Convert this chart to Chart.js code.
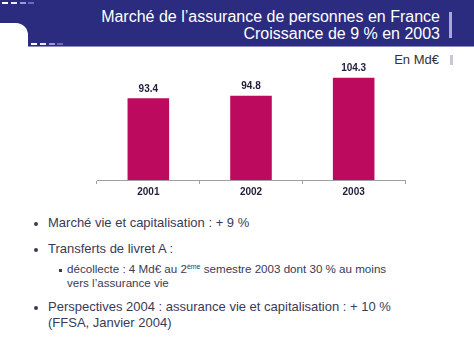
<!DOCTYPE html>
<html><head><meta charset="utf-8">
<script src="https://cdn.jsdelivr.net/npm/chart.js@4"></script>
<style>
html,body{margin:0;padding:0;background:#fff;width:474px;height:355px;overflow:hidden;font-family:"Liberation Sans",Arial,sans-serif;}
#hdr{position:absolute;left:0;top:0;width:474px;height:46px;background:#2B2B80;border-bottom:1px solid #8C8CC0;}
#corner{position:absolute;left:0;top:23px;width:28px;height:24px;background:#fff;border-top-right-radius:12px;}
.t{position:absolute;white-space:nowrap;}
#title{right:34px;top:8px;color:#fff;font-size:16px;line-height:17px;text-align:right;}
#vbar{position:absolute;left:449px;top:12px;width:3px;height:26px;background:#A8A8D8;}
#unit{right:35px;top:52px;color:#333;font-size:13px;}
#vbar2{position:absolute;left:450px;top:55px;width:3px;height:10px;background:#C8C8D4;}
.dash{position:absolute;height:2px;width:6px;}
#chartwrap{position:absolute;left:92px;top:55px;width:318px;height:150px;}
.b{color:#3A3A58;}
.dot{position:absolute;width:4px;height:4px;border-radius:2px;background:#3A3A58;}
.sq{position:absolute;width:3px;height:3px;background:#3A3A58;}
</style></head>
<body>
<div id="hdr"></div>
<div id="corner"></div>
<div class="dash" style="left:2px;top:2px;background:#fff"></div>
<div class="dash" style="left:11px;top:2px;background:#e8e8ff"></div>
<div class="dash" style="left:20px;top:2px;background:#9a9ad8"></div>
<div class="dash" style="left:28px;top:2px;background:#6a6ab8"></div>
<div class="dash" style="left:31px;top:43px;background:#fff"></div>
<div class="dash" style="left:40px;top:43px;background:#e8e8ff"></div>
<div class="dash" style="left:49px;top:43px;background:#9a9ad8"></div>
<div class="dash" style="left:57px;top:43px;background:#6a6ab8"></div>
<div id="title" class="t">Marché de l’assurance de personnes en France<br>Croissance de 9 % en 2003</div>
<div id="vbar"></div>
<div id="unit" class="t">En Md€</div>
<div id="vbar2"></div>
<div id="chartwrap"><canvas id="c" width="318" height="150"></canvas></div>

<div class="dot" style="left:34px;top:222px"></div>
<div class="t b" style="left:48px;top:215px;font-size:13px">Marché vie et capitalisation : + 9 %</div>
<div class="dot" style="left:34px;top:248px"></div>
<div class="t b" style="left:48px;top:241px;font-size:13px">Transferts de livret A :</div>
<div class="sq" style="left:59px;top:269px"></div>
<div class="t b" style="left:67px;top:262px;font-size:11.6px;line-height:14px">décollecte : 4 Md€ au 2<sup style="font-size:7px;vertical-align:4px;line-height:0">ème</sup> semestre 2003 dont 30 % au moins<br>vers l’assurance vie</div>
<div class="dot" style="left:34px;top:306px"></div>
<div class="t b" style="left:48px;top:299px;font-size:13px;line-height:16px">Perspectives 2004 : assurance vie et capitalisation : + 10 %<br>(FFSA, Janvier 2004)</div>

<script>
const categories = ["2001", "2002", "2003"];
const values = [93.4, 94.8, 104.3];
const yMin = 50;
const yMax = 110;

const labelPlugin = {
  id: 'vals',
  afterDatasetsDraw(chart) {
    const ctx = chart.ctx;
    const meta = chart.getDatasetMeta(0);
    ctx.save();
    ctx.font = 'bold 10px "Liberation Sans", Arial, sans-serif';
    ctx.fillStyle = '#1E1E3C';
    ctx.textAlign = 'center';
    ctx.textBaseline = 'bottom';
    meta.data.forEach((bar, i) => {
      ctx.fillText(values[i].toFixed(1), bar.x, bar.y - 4);
    });
    ctx.restore();
  }
};

new Chart(document.getElementById('c'), {
  type: 'bar',
  data: {
    labels: categories,
    datasets: [{ data: values, backgroundColor: '#BC0A5E', borderWidth: 0,
      barPercentage: 0.81, categoryPercentage: 0.5 }]
  },
  options: {
    responsive: false,
    animation: false,
    layout: { padding: { left: 5, right: 5, top: 12, bottom: 0 } },
    plugins: { legend: { display: false }, tooltip: { enabled: false } },
    scales: {
      y: { display: false, min: yMin, max: yMax },
      x: {
        afterFit(s) { s.height = 25; },
        border: { color: '#A0A0A0', width: 1 },
        grid: { offset: true, drawOnChartArea: false, drawTicks: true, tickLength: 4, color: '#A0A0A0' },
        ticks: { color: '#1E1E3C', font: { family: '"Liberation Sans", Arial, sans-serif', size: 10, weight: 'bold' }, padding: 2 }
      }
    }
  },
  plugins: [labelPlugin]
});
</script>
</body></html>
